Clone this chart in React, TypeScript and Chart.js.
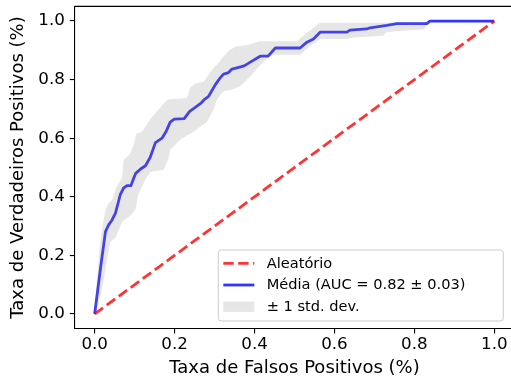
import React, { useEffect, useRef } from 'react';
import { Chart, registerables } from 'chart.js';

Chart.register(...registerables);

// ---- data ----
const meanFpr = [0, 0.014, 0.027, 0.035, 0.0435, 0.052, 0.064, 0.0725, 0.081, 0.0905, 0.102, 0.114, 0.127, 0.139, 0.152, 0.1685, 0.179, 0.189, 0.199, 0.224, 0.237, 0.249, 0.267, 0.274, 0.285, 0.302, 0.314, 0.3225, 0.335, 0.3435, 0.358, 0.374, 0.3935, 0.414, 0.434, 0.452, 0.514, 0.531, 0.5475, 0.564, 0.631, 0.639, 0.681, 0.689, 0.731, 0.756, 0.831, 0.839, 1.0];
const meanTpr = [0, 0.15, 0.281, 0.304, 0.321, 0.344, 0.407, 0.43, 0.438, 0.438, 0.479, 0.494, 0.506, 0.535, 0.585, 0.6, 0.624, 0.655, 0.665, 0.667, 0.691, 0.703, 0.721, 0.732, 0.743, 0.783, 0.806, 0.819, 0.824, 0.836, 0.841, 0.847, 0.863, 0.88, 0.88, 0.908, 0.908, 0.928, 0.939, 0.962, 0.962, 0.969, 0.973, 0.977, 0.985, 0.991, 0.991, 1.0, 1.0];

const upperFpr = [0, 0.0055, 0.012, 0.019, 0.027, 0.034, 0.044, 0.054, 0.0685, 0.0725, 0.089, 0.0975, 0.104, 0.1185, 0.132, 0.144, 0.164, 0.182, 0.231, 0.239, 0.252, 0.2725, 0.285, 0.2975, 0.31, 0.3185, 0.331, 0.339, 0.356, 0.389, 0.3975, 0.414, 0.506, 0.531, 0.564, 0.829, 0.839, 1.0];
const upperTpr = [0, 0.116, 0.219, 0.294, 0.356, 0.376, 0.39, 0.431, 0.465, 0.526, 0.547, 0.578, 0.615, 0.622, 0.65, 0.674, 0.704, 0.732, 0.737, 0.773, 0.786, 0.793, 0.817, 0.84, 0.857, 0.874, 0.891, 0.903, 0.914, 0.92, 0.925, 0.931, 0.931, 0.96, 0.994, 0.994, 1.0, 1.0];

const lowerFpr = [0, 0.01, 0.0225, 0.031, 0.039, 0.052, 0.06, 0.0685, 0.089, 0.102, 0.109, 0.119, 0.129, 0.139, 0.159, 0.1725, 0.185, 0.189, 0.1975, 0.214, 0.231, 0.2475, 0.26, 0.281, 0.2975, 0.306, 0.3225, 0.3475, 0.364, 0.381, 0.3935, 0.406, 0.4185, 0.435, 0.4475, 0.514, 0.539, 0.556, 0.564, 0.631, 0.647, 0.689, 0.722, 0.729, 0.757, 0.824, 0.834, 0.844, 1.0];
const lowerTpr = [0, 0.038, 0.116, 0.185, 0.246, 0.26, 0.287, 0.315, 0.335, 0.356, 0.407, 0.438, 0.465, 0.485, 0.489, 0.492, 0.532, 0.561, 0.572, 0.595, 0.609, 0.622, 0.635, 0.656, 0.697, 0.732, 0.76, 0.768, 0.777, 0.8, 0.817, 0.838, 0.855, 0.877, 0.885, 0.885, 0.914, 0.931, 0.939, 0.939, 0.944, 0.947, 0.95, 0.961, 0.966, 0.971, 0.991, 1.0, 1.0];

const diagFpr = [0, 1];
const diagTpr = [0, 1];

const axisTicks = [0, 0.2, 0.4, 0.6, 0.8, 1.0];
const legendLabels = ['Aleatório', 'Média (AUC = 0.82 ± 0.03)', '± 1 std. dev.'];
const xTitle = 'Taxa de Falsos Positivos (%)';
const yTitle = 'Taxa de Verdadeiros Positivos (%)';

const BLUE = 'rgba(0,0,255,0.8)';
const RED = 'rgba(255,0,0,0.8)';
const GREY = 'rgba(128,128,128,0.2)';
const FONT = 'DejaVu Sans';
const TICK_SIZE = 16.7;
const TITLE_SIZE = 18;
const LEGEND_SIZE = 14.6;
const DASH = [10.4, 4.5];

const toPts = (xs: number[], ys: number[]) => xs.map((x, i) => ({ x, y: ys[i] }));

const framePlugin = {
  id: 'frameAndLegend',
  afterDraw(chart: any) {
    const { ctx, chartArea: a } = chart;
    ctx.save();
    // top spine and right spine (right spine falls just outside the visible page)
    ctx.strokeStyle = '#000';
    ctx.lineWidth = 1.1;
    ctx.beginPath();
    ctx.moveTo(a.left, a.top);
    ctx.lineTo(a.right, a.top);
    ctx.lineTo(a.right, a.bottom);
    ctx.stroke();

    // legend (lower right)
    const bx = a.left + 143.6;
    const by = a.bottom - 78.6;
    const bw = 285;
    const bh = 71;
    const r = 3;
    ctx.beginPath();
    ctx.moveTo(bx + r, by);
    ctx.lineTo(bx + bw - r, by);
    ctx.arcTo(bx + bw, by, bx + bw, by + r, r);
    ctx.lineTo(bx + bw, by + bh - r);
    ctx.arcTo(bx + bw, by + bh, bx + bw - r, by + bh, r);
    ctx.lineTo(bx + r, by + bh);
    ctx.arcTo(bx, by + bh, bx, by + bh - r, r);
    ctx.lineTo(bx, by + r);
    ctx.arcTo(bx, by, bx + r, by, r);
    ctx.closePath();
    ctx.fillStyle = 'rgba(255,255,255,0.8)';
    ctx.fill();
    ctx.strokeStyle = '#cccccc';
    ctx.lineWidth = 1;
    ctx.stroke();

    const hx0 = bx + 5;
    const hx1 = bx + 36;
    const tx = bx + 48.4;
    const rows = [by + 13.3, by + 35, by + 56.7];

    ctx.strokeStyle = RED;
    ctx.lineWidth = 2.8;
    ctx.setLineDash(DASH);
    ctx.beginPath();
    ctx.moveTo(hx0, rows[0]);
    ctx.lineTo(hx1, rows[0]);
    ctx.stroke();
    ctx.setLineDash([]);
    ctx.strokeStyle = BLUE;
    ctx.beginPath();
    ctx.moveTo(hx0, rows[1]);
    ctx.lineTo(hx1, rows[1]);
    ctx.stroke();
    ctx.fillStyle = GREY;
    ctx.fillRect(hx0, rows[2] - 5.2, hx1 - hx0, 10.4);

    ctx.fillStyle = '#000';
    ctx.font = `${LEGEND_SIZE}px "${FONT}"`;
    ctx.textBaseline = 'middle';
    ctx.textAlign = 'left';
    legendLabels.forEach((t, i) => ctx.fillText(t, tx, rows[i] + 0.5));
    ctx.restore();
  },
};

export default function App() {
  const ref = useRef<HTMLCanvasElement | null>(null);
  useEffect(() => {
    if (!ref.current) return;
    const tickCfg = {
      callback: (v: any) => Number(v).toFixed(1),
      font: { family: FONT, size: TICK_SIZE },
      color: '#000',
      maxRotation: 0,
      autoSkip: false,
    };
    const gridCfg = {
      drawOnChartArea: false,
      drawTicks: true,
      tickLength: 4.9,
      color: '#000',
      lineWidth: 1.1,
    };
    const chart = new Chart(ref.current, {
      type: 'scatter',
      data: {
        datasets: [
          {
            label: legendLabels[2],
            data: [...toPts(upperFpr, upperTpr), ...toPts(lowerFpr, lowerTpr).reverse()],
            showLine: true,
            fill: 'shape',
            backgroundColor: GREY,
            borderWidth: 0,
            borderColor: 'rgba(0,0,0,0)',
            pointRadius: 0,
            tension: 0,
          } as any,
          {
            label: legendLabels[0],
            data: toPts(diagFpr, diagTpr),
            showLine: true,
            borderColor: RED,
            borderWidth: 2.8,
            borderDash: DASH,
            pointRadius: 0,
            fill: false,
          },
          {
            label: legendLabels[1],
            data: toPts(meanFpr, meanTpr),
            showLine: true,
            borderColor: BLUE,
            borderWidth: 2.8,
            borderJoinStyle: 'round',
            pointRadius: 0,
            fill: false,
            tension: 0,
          },
        ],
      },
      options: {
        animation: false,
        responsive: false,
        devicePixelRatio: 1,
        layout: { padding: { left: 0, top: 6.4, right: 15.7, bottom: 0 } },
        plugins: { legend: { display: false }, tooltip: { enabled: false } },
        scales: {
          x: {
            type: 'linear',
            position: 'bottom',
            min: -0.05,
            max: 1.05,
            afterBuildTicks: (s: any) => { s.ticks = axisTicks.map((v) => ({ value: v })); },
            afterFit: (s: any) => { s.height = 52.4; s.paddingLeft = 0; s.paddingRight = 0; },
            ticks: { ...tickCfg, padding: 1 },
            grid: gridCfg,
            border: { display: true, color: '#000', width: 1.1 },
            title: { display: true, text: xTitle, color: '#000', font: { family: FONT, size: TITLE_SIZE }, padding: { top: 0, bottom: 2.2 } },
          },
          y: {
            type: 'linear',
            position: 'left',
            min: -0.05,
            max: 1.05,
            afterBuildTicks: (s: any) => { s.ticks = axisTicks.map((v) => ({ value: v })); },
            afterFit: (s: any) => { s.width = 74.7; s.paddingTop = 0; s.paddingBottom = 0; },
            ticks: { ...tickCfg, padding: 5 },
            grid: gridCfg,
            border: { display: true, color: '#000', width: 1.1 },
            title: { display: true, text: yTitle, color: '#000', font: { family: FONT, size: TITLE_SIZE }, padding: { top: 7.2, bottom: 0 } },
          },
        },
      } as any,
      plugins: [framePlugin],
    });
    return () => chart.destroy();
  }, []);

  return (
    <div style={{ position: 'absolute', left: 0, top: 0, width: 511, height: 381, overflow: 'hidden', background: '#fff' }}>
      <canvas ref={ref} width={530} height={381} style={{ display: 'block' }} />
    </div>
  );
}
